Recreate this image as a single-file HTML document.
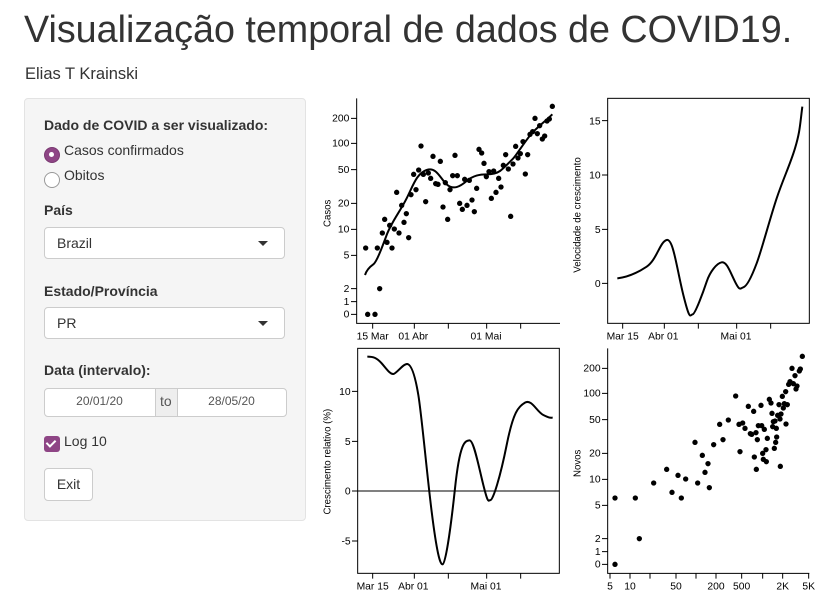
<!DOCTYPE html>
<html><head><meta charset="utf-8"><style>
body{margin:0;width:828px;height:605px;background:#fff;font-family:"Liberation Sans",sans-serif;color:#333;position:relative;overflow:hidden}
.a{position:absolute;white-space:nowrap}
.lbl{font-weight:bold;font-size:14px}
.sel{position:absolute;left:44px;width:241px;height:32px;background:#fff;border:1px solid #ccc;border-radius:4px;box-sizing:border-box}
.sel span{position:absolute;left:12px;top:7px;font-size:14px}
.sel i{position:absolute;right:16px;top:13px;width:0;height:0;border-left:5px solid transparent;border-right:5px solid transparent;border-top:5px solid #333}
svg text{font-family:"Liberation Sans",sans-serif}
</style></head><body>
<div class="a" style="left:24px;top:5px;font-size:37.7px;line-height:48px">Visualização temporal de dados de COVID19.</div>
<div class="a" style="left:25px;top:65px;font-size:16.5px">Elias T Krainski</div>
<div class="a" style="left:24px;top:98px;width:282px;height:423px;background:#f5f5f5;border:1px solid #e3e3e3;border-radius:4px;box-sizing:border-box"></div>
<div class="a lbl" style="left:44px;top:117px">Dado de COVID a ser visualizado:</div>
<div class="a" style="left:44px;top:147px;width:14px;height:14px;border-radius:50%;background:#8e4585;border:1px solid #7a3a72"></div>
<div class="a" style="left:49px;top:152px;width:5px;height:5px;border-radius:50%;background:#fff"></div>
<div class="a" style="left:64px;top:142px;font-size:14px">Casos confirmados</div>
<div class="a" style="left:44px;top:172px;width:14px;height:14px;border-radius:50%;background:#fff;border:1px solid #999"></div>
<div class="a" style="left:64px;top:167px;font-size:14px">Obitos</div>
<div class="a lbl" style="left:44px;top:202px">País</div>
<div class="sel" style="top:227px"><span>Brazil</span><i></i></div>
<div class="a lbl" style="left:44px;top:283px">Estado/Província</div>
<div class="sel" style="top:307px"><span>PR</span><i></i></div>
<div class="a lbl" style="left:44px;top:362px">Data (intervalo):</div>
<div class="a" style="left:44px;top:388px;width:243px;height:29px;border:1px solid #ccc;border-radius:4px;background:#fff;box-sizing:border-box"></div>
<div class="a" style="left:155px;top:389px;width:21px;height:27px;background:#eee;border-left:1px solid #ccc;border-right:1px solid #ccc"></div>
<div class="a" style="left:160px;top:393px;font-size:14px;color:#555">to</div>
<div class="a" style="left:44px;top:394px;width:111px;text-align:center;font-size:12px;color:#555">20/01/20</div>
<div class="a" style="left:176px;top:394px;width:111px;text-align:center;font-size:12px;color:#555">28/05/20</div>
<div class="a" style="left:44px;top:436px;width:16px;height:16px;border-radius:3px;background:#8e4585"></div>
<div class="a" style="left:48px;top:438px;width:4px;height:7px;border-right:2px solid #fff;border-bottom:2px solid #fff;transform:rotate(45deg)"></div>
<div class="a" style="left:64px;top:433px;font-size:14px">Log 10</div>
<div class="a" style="left:44px;top:468px;width:49px;height:33px;border:1px solid #ccc;border-radius:4px;background:#fff;box-sizing:border-box;text-align:center;line-height:31px;font-size:14px">Exit</div>

<svg class="a" style="left:0;top:0" width="828" height="605">
<g transform="translate(320,95) scale(0.33333)" font-size="31" fill="#000" stroke-width="3">
<path d="M110 10V685H720" fill="none" stroke="#000"/>
<path d="M93 70H110M93 145H110M93 224H110M93 325H110M93 403H110M93 481H110M93 581H110M93 620H110M93 658H110M158 685v16M283 685v16M385 685v16M500 685v16M602 685v16" stroke="#000"/>
<g text-anchor="end"><text x="88" y="80">200</text><text x="88" y="155">100</text><text x="88" y="234">50</text><text x="88" y="335">20</text><text x="88" y="413">10</text><text x="88" y="491">5</text><text x="88" y="591">2</text><text x="88" y="630">1</text><text x="88" y="668">0</text></g>
<g text-anchor="middle"><text x="158" y="733">15 Mar</text><text x="280" y="733">01 Abr</text><text x="498" y="733">01 Mai</text></g>
<text transform="translate(32,355) rotate(-90)" text-anchor="middle" font-size="29">Casos</text>
<path d="M135 540C140 525 150 515 160 508S185 460 200 420S240 350 260 310S290 235 320 225S360 250 380 268S420 275 440 258S480 238 500 238S530 235 540 228S570 200 580 190S620 130 640 110S680 75 697 58" fill="none" stroke="#000" stroke-width="6"/>
<circle cx="137" cy="459" r="8"/><circle cx="143" cy="658" r="8"/><circle cx="165" cy="658" r="8"/><circle cx="172" cy="459" r="8"/><circle cx="179" cy="581" r="8"/><circle cx="187" cy="414" r="8"/><circle cx="194" cy="373" r="8"/><circle cx="201" cy="442" r="8"/><circle cx="209" cy="391" r="8"/><circle cx="216" cy="459" r="8"/><circle cx="223" cy="402" r="8"/><circle cx="230" cy="292" r="8"/><circle cx="237" cy="414" r="8"/><circle cx="245" cy="331" r="8"/><circle cx="252" cy="382" r="8"/><circle cx="259" cy="356" r="8"/><circle cx="266" cy="428" r="8"/><circle cx="273" cy="299" r="8"/><circle cx="281" cy="238" r="8"/><circle cx="288" cy="284" r="8"/><circle cx="296" cy="225" r="8"/><circle cx="303" cy="153" r="8"/><circle cx="310" cy="238" r="8"/><circle cx="317" cy="320" r="8"/><circle cx="325" cy="234" r="8"/><circle cx="332" cy="250" r="8"/><circle cx="339" cy="184" r="8"/><circle cx="347" cy="266" r="8"/><circle cx="354" cy="268" r="8"/><circle cx="361" cy="199" r="8"/><circle cx="369" cy="336" r="8"/><circle cx="376" cy="263" r="8"/><circle cx="383" cy="373" r="8"/><circle cx="390" cy="284" r="8"/><circle cx="398" cy="242" r="8"/><circle cx="405" cy="181" r="8"/><circle cx="412" cy="242" r="8"/><circle cx="419" cy="325" r="8"/><circle cx="427" cy="343" r="8"/><circle cx="434" cy="253" r="8"/><circle cx="441" cy="331" r="8"/><circle cx="448" cy="256" r="8"/><circle cx="456" cy="315" r="8"/><circle cx="463" cy="350" r="8"/><circle cx="470" cy="280" r="8"/><circle cx="477" cy="163" r="8"/><circle cx="485" cy="174" r="8"/><circle cx="492" cy="205" r="8"/><circle cx="499" cy="245" r="8"/><circle cx="507" cy="230" r="8"/><circle cx="514" cy="310" r="8"/><circle cx="521" cy="228" r="8"/><circle cx="528" cy="292" r="8"/><circle cx="536" cy="250" r="8"/><circle cx="543" cy="276" r="8"/><circle cx="550" cy="211" r="8"/><circle cx="557" cy="179" r="8"/><circle cx="565" cy="222" r="8"/><circle cx="572" cy="364" r="8"/><circle cx="579" cy="207" r="8"/><circle cx="587" cy="154" r="8"/><circle cx="594" cy="189" r="8"/><circle cx="601" cy="176" r="8"/><circle cx="609" cy="140" r="8"/><circle cx="616" cy="237" r="8"/><circle cx="623" cy="179" r="8"/><circle cx="630" cy="118" r="8"/><circle cx="638" cy="110" r="8"/><circle cx="645" cy="70" r="8"/><circle cx="652" cy="116" r="8"/><circle cx="659" cy="92" r="8"/><circle cx="667" cy="132" r="8"/><circle cx="674" cy="123" r="8"/><circle cx="681" cy="78" r="8"/><circle cx="688" cy="72" r="8"/><circle cx="697" cy="34" r="8"/>
</g>

<g transform="translate(570,95) scale(0.33333)" font-size="31" fill="#000" stroke-width="3">
<rect x="113" y="10" width="605" height="675" fill="none" stroke="#000"/>
<path d="M96 77H113M96 240H113M96 403H113M96 565H113M158 685v16M283 685v16M385 685v16M500 685v16M602 685v16" stroke="#000"/>
<g text-anchor="end"><text x="92" y="88">15</text><text x="92" y="251">10</text><text x="92" y="414">5</text><text x="92" y="576">0</text></g>
<g text-anchor="middle"><text x="158" y="733">Mar 15</text><text x="280" y="733">Abr 01</text><text x="498" y="733">Mai 01</text></g>
<text transform="translate(32,360) rotate(-90)" text-anchor="middle" font-size="29">Velocidade de crescimento</text>
<path d="M142 550C170 547 200 535 230 515S270 440 290 435S320 520 340 600S360 660 368 658S400 590 410 560S440 505 455 502S480 530 495 560S510 580 520 577S545 545 560 505S600 370 620 310S660 210 675 160S690 90 697 35" fill="none" stroke="#000" stroke-width="6"/>
</g>

<g transform="translate(320,345) scale(0.33333)" font-size="31" fill="#000" stroke-width="3">
<rect x="113" y="10" width="605" height="675" fill="none" stroke="#000"/>
<path d="M113 438H718" stroke="#000"/>
<path d="M96 139H113M96 289H113M96 438H113M96 588H113M158 685v16M283 685v16M385 685v16M500 685v16M602 685v16" stroke="#000"/>
<g text-anchor="end"><text x="92" y="150">10</text><text x="92" y="300">5</text><text x="92" y="449">0</text><text x="92" y="599">-5</text></g>
<g text-anchor="middle"><text x="158" y="733">Mar 15</text><text x="280" y="733">Abr 01</text><text x="498" y="733">Mai 01</text></g>
<text transform="translate(32,350) rotate(-90)" text-anchor="middle" font-size="29">Crescimento relativo (%)</text>
<path d="M142 35C160 35 170 38 185 55S210 88 220 87S250 55 262 57S285 90 295 150S320 380 335 500S360 660 368 658S390 570 405 430S435 288 448 286S475 360 490 420S505 466 512 465S540 400 560 300S595 185 615 173S650 200 670 210S690 218 698 218" fill="none" stroke="#000" stroke-width="6"/>
</g>

<g transform="translate(570,345) scale(0.33333)" font-size="31" fill="#000" stroke-width="3">
<path d="M113 10V685H718" fill="none" stroke="#000"/>
<path d="M96 70H113M96 145H113M96 224H113M96 325H113M96 403H113M96 481H113M96 581H113M96 620H113M96 658H113M120 685v16M180 685v16M240 685v16M318 685v16M378 685v16M438 685v16M515 685v16M578 685v16M638 685v16M716 685v16" stroke="#000"/>
<g text-anchor="end"><text x="92" y="80">200</text><text x="92" y="155">100</text><text x="92" y="234">50</text><text x="92" y="335">20</text><text x="92" y="413">10</text><text x="92" y="491">5</text><text x="92" y="591">2</text><text x="92" y="630">1</text><text x="92" y="668">0</text></g>
<g text-anchor="middle"><text x="120" y="733">5</text><text x="180" y="733">10</text><text x="318" y="733">50</text><text x="438" y="733">200</text><text x="515" y="733">500</text><text x="638" y="733">2K</text><text x="716" y="733">5K</text></g>
<text transform="translate(32,355) rotate(-90)" text-anchor="middle" font-size="29">Novos</text>
<circle cx="135" cy="459" r="8"/><circle cx="135" cy="658" r="8"/><circle cx="196" cy="459" r="8"/><circle cx="208" cy="581" r="8"/><circle cx="251" cy="414" r="8"/><circle cx="290" cy="373" r="8"/><circle cx="306" cy="442" r="8"/><circle cx="324" cy="391" r="8"/><circle cx="334" cy="459" r="8"/><circle cx="347" cy="402" r="8"/><circle cx="375" cy="292" r="8"/><circle cx="383" cy="414" r="8"/><circle cx="397" cy="331" r="8"/><circle cx="405" cy="382" r="8"/><circle cx="414" cy="356" r="8"/><circle cx="418" cy="428" r="8"/><circle cx="431" cy="299" r="8"/><circle cx="449" cy="238" r="8"/><circle cx="459" cy="284" r="8"/><circle cx="475" cy="225" r="8"/><circle cx="497" cy="153" r="8"/><circle cx="507" cy="238" r="8"/><circle cx="510" cy="320" r="8"/><circle cx="518" cy="234" r="8"/><circle cx="525" cy="250" r="8"/><circle cx="535" cy="184" r="8"/><circle cx="541" cy="266" r="8"/><circle cx="545" cy="268" r="8"/><circle cx="551" cy="199" r="8"/><circle cx="553" cy="336" r="8"/><circle cx="558" cy="263" r="8"/><circle cx="559" cy="373" r="8"/><circle cx="562" cy="284" r="8"/><circle cx="565" cy="242" r="8"/><circle cx="573" cy="181" r="8"/><circle cx="575" cy="242" r="8"/><circle cx="578" cy="325" r="8"/><circle cx="580" cy="343" r="8"/><circle cx="583" cy="253" r="8"/><circle cx="588" cy="314" r="8"/><circle cx="589" cy="350" r="8"/><circle cx="592" cy="280" r="8"/><circle cx="598" cy="163" r="8"/><circle cx="603" cy="174" r="8"/><circle cx="606" cy="205" r="8"/><circle cx="608" cy="245" r="8"/><circle cx="610" cy="230" r="8"/><circle cx="613" cy="310" r="8"/><circle cx="615" cy="228" r="8"/><circle cx="617" cy="292" r="8"/><circle cx="619" cy="250" r="8"/><circle cx="620" cy="276" r="8"/><circle cx="623" cy="211" r="8"/><circle cx="627" cy="179" r="8"/><circle cx="630" cy="222" r="8"/><circle cx="631" cy="364" r="8"/><circle cx="633" cy="207" r="8"/><circle cx="637" cy="154" r="8"/><circle cx="640" cy="189" r="8"/><circle cx="643" cy="176" r="8"/><circle cx="647" cy="140" r="8"/><circle cx="648" cy="237" r="8"/><circle cx="652" cy="179" r="8"/><circle cx="656" cy="118" r="8"/><circle cx="660" cy="110" r="8"/><circle cx="666" cy="70" r="8"/><circle cx="670" cy="116" r="8"/><circle cx="675" cy="92" r="8"/><circle cx="678" cy="132" r="8"/><circle cx="681" cy="123" r="8"/><circle cx="688" cy="78" r="8"/><circle cx="691" cy="72" r="8"/><circle cx="697" cy="34" r="8"/>
</g>
</svg>
</body></html>
